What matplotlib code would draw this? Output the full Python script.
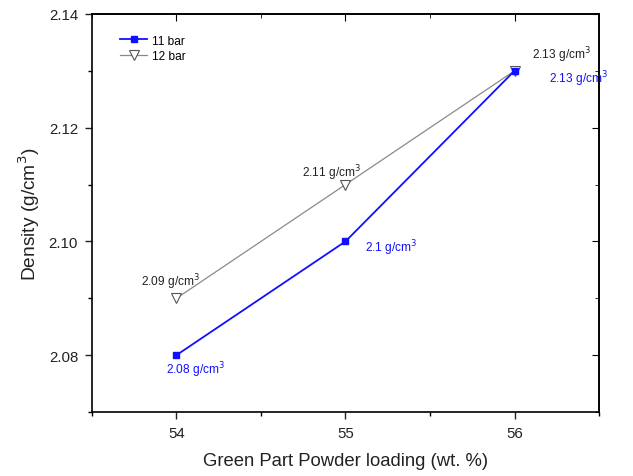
import matplotlib
matplotlib.use("Agg")
import matplotlib.pyplot as plt
from matplotlib.ticker import MultipleLocator

plt.rcParams['font.family'] = ['Liberation Sans', 'DejaVu Sans']

loading = [54, 55, 56]
density_11 = [2.08, 2.10, 2.13]
density_12 = [2.09, 2.11, 2.13]
labels_11 = ["2.08 g/cm$^3$", "2.1 g/cm$^3$", "2.13 g/cm$^3$"]
labels_12 = ["2.09 g/cm$^3$", "2.11 g/cm$^3$", "2.13 g/cm$^3$"]

fig = plt.figure(figsize=(6.33, 4.77), dpi=100)
ax = fig.add_axes([0.1453, 0.1342, 0.8010, 0.8344])

blue = '#1010ff'
gray = '#8a8a8a'
ax.plot(loading, density_11, color=blue, lw=1.3, marker='s', ms=5,
        mfc=blue, mec=blue, label='11 bar', zorder=3)
ax.plot(loading, density_12, color=gray, lw=0.9, marker='v', ms=7,
        mfc='white', mec='#555555', mew=0.8, label='12 bar', zorder=2)

# annotations (offsets in points)
off_11 = [(14, -10, 'center'), (14, -4, 'left'), (25, -5, 'left')]
off_12 = [(-4, 12, 'center'), (-10, 9, 'center'), (34, 12, 'center')]
for x, y, t, (dx, dy, ha) in zip(loading, density_11, labels_11, off_11):
    ax.annotate(t, (x, y), xytext=(dx, dy), textcoords='offset points',
                ha=ha, va='center', fontsize=8.6, color=blue)
for x, y, t, (dx, dy, ha) in zip(loading, density_12, labels_12, off_12):
    ax.annotate(t, (x, y), xytext=(dx, dy), textcoords='offset points',
                ha=ha, va='center', fontsize=8.6, color='#222222')

ax.set_xlim(53.5, 56.5)
ax.set_ylim(2.07, 2.14)
ax.xaxis.set_major_locator(MultipleLocator(1))
ax.xaxis.set_minor_locator(MultipleLocator(0.5))
ax.yaxis.set_major_locator(MultipleLocator(0.02))
ax.yaxis.set_minor_locator(MultipleLocator(0.01))
ax.yaxis.set_major_formatter(matplotlib.ticker.FormatStrFormatter('%.2f'))
ax.tick_params(which='major', direction='out', length=5, width=1, labelsize=10.8,
               colors='#222222', pad=5)
ax.tick_params(which='minor', direction='out', length=3, width=1)

secx = ax.secondary_xaxis('top')
secx.xaxis.set_major_locator(MultipleLocator(1))
secx.xaxis.set_minor_locator(MultipleLocator(0.5))
secx.tick_params(which='major', direction='in', length=5, labeltop=False)
secx.tick_params(which='minor', direction='in', length=3)
secy = ax.secondary_yaxis('right')
secy.yaxis.set_major_locator(MultipleLocator(0.02))
secy.yaxis.set_minor_locator(MultipleLocator(0.01))
secy.tick_params(which='major', direction='in', length=5, labelright=False)
secy.tick_params(which='minor', direction='in', length=3)

for s in ax.spines.values():
    s.set_linewidth(1.2)
secx.spines['top'].set_linewidth(1.2)
secy.spines['right'].set_linewidth(1.2)

ax.set_xlabel('Green Part Powder loading (wt. %)', fontsize=13.3, labelpad=9, color='#222222')
ax.set_ylabel('Density (g/cm$^3$)', fontsize=13.8, labelpad=5, color='#222222')

ax.legend(loc='upper left', bbox_to_anchor=(0.035, 0.975), frameon=False,
          fontsize=8.6, handlelength=2.2, handletextpad=0.4, labelspacing=0.3)

fig.savefig('out.png', dpi=100)
